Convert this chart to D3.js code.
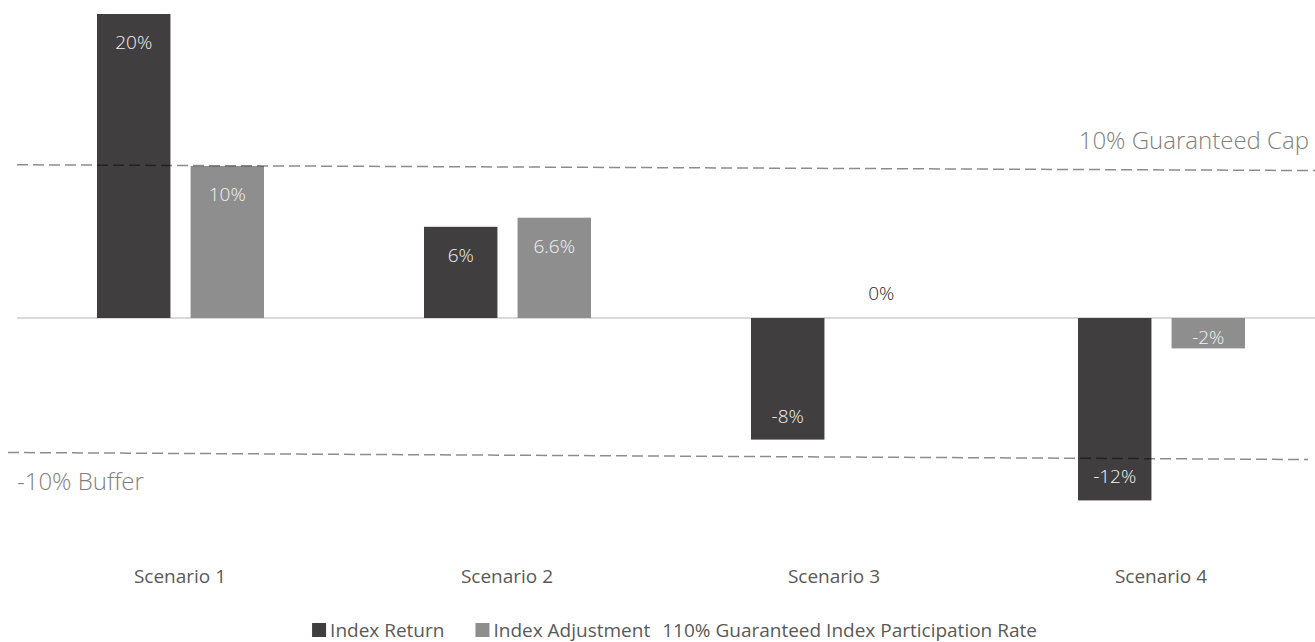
<!DOCTYPE html>
<html>
<head>
<meta charset="utf-8">
<script src="https://cdn.jsdelivr.net/npm/d3@7"></script>
<style>
  html, body { margin: 0; padding: 0; background: #fff; }
  svg { display: block; font-family: "Open Sans", "Segoe UI", sans-serif; }
</style>
</head>
<body>
<svg id="chart" width="1315" height="642"></svg>
<script>
// ---- data ----
const categories = ["Scenario 1", "Scenario 2", "Scenario 3", "Scenario 4"];
const seriesNames = ["Index Return", "Index Adjustment"];
const indexReturn = [20, 6, -8, -12];
const indexAdjustment = [10, 6.6, 0, -2];
const capLine = [10.08, 9.70];      // value at left end, value at right end
const bufferLine = [-8.85, -9.31];
const capLabel = "10% Guaranteed Cap";
const bufferLabel = "-10% Buffer";
const extraLegend = "110% Guaranteed Index Participation Rate";

const colors = ["#403e3f", "#8e8e8e"];

const svg = d3.select("#chart");

const x0 = d3.scaleBand().domain(categories).range([17, 1325]).paddingInner(0).paddingOuter(0);
const x1 = d3.scaleBand().domain(seriesNames).range([80, 247]).paddingInner(0.215).paddingOuter(0);
const y = d3.scaleLinear().domain([-12, 20]).range([500.4, 14]);

const rows = categories.map((c, i) => ({ cat: c, vals: [indexReturn[i], indexAdjustment[i]] }));

// zero line
svg.append("line")
  .attr("x1", 17).attr("x2", 1315)
  .attr("y1", y(0)).attr("y2", y(0))
  .attr("stroke", "#d9d9d9").attr("stroke-width", 2);

// bars
const groups = svg.selectAll("g.cat").data(rows).join("g")
  .attr("class", "cat")
  .attr("transform", d => `translate(${x0(d.cat)},0)`);

groups.selectAll("rect").data(d => d.vals.map((v, j) => ({ v, s: seriesNames[j], j })))
  .join("rect")
  .attr("x", d => x1(d.s))
  .attr("width", x1.bandwidth())
  .attr("y", d => Math.min(y(d.v), y(0)))
  .attr("height", d => Math.abs(y(d.v) - y(0)))
  .attr("fill", d => colors[d.j]);

// dashed reference lines
svg.append("line")
  .attr("x1", 17).attr("x2", 1315)
  .attr("y1", y(capLine[0])).attr("y2", y(capLine[1]))
  .attr("stroke", "#000").attr("stroke-opacity", 0.45)
  .attr("stroke-width", 1.5).attr("stroke-dasharray", "11,5");
svg.append("line")
  .attr("x1", 8).attr("x2", 1308)
  .attr("y1", y(bufferLine[0])).attr("y2", y(bufferLine[1]))
  .attr("stroke", "#000").attr("stroke-opacity", 0.45)
  .attr("stroke-width", 1.5).attr("stroke-dasharray", "11,5");

// bar value labels
groups.selectAll("text.val").data(d => d.vals.map((v, j) => ({ v, s: seriesNames[j], j })))
  .join("text")
  .attr("class", "val")
  .attr("x", d => x1(d.s) + x1.bandwidth() / 2)
  .attr("y", d => {
    if (d.v > 0) return y(d.v) + 35;
    if (d.v < 0) return Math.max(y(d.v) - 17, y(0) + 26);
    return y(0) - 18;
  })
  .attr("text-anchor", "middle")
  .attr("font-size", 19).attr("font-weight", 300)
  .attr("fill", d => d.v === 0 ? "#262626" : "#f2f2f2")
  .text(d => d.v + "%");

// reference labels
svg.append("text")
  .attr("x", 1309).attr("y", 149)
  .attr("text-anchor", "end")
  .attr("font-size", 24).attr("font-weight", 300)
  .attr("fill", "#7f7f7f")
  .text(capLabel);
svg.append("text")
  .attr("x", 17).attr("y", 490)
  .attr("font-size", 24).attr("font-weight", 300)
  .attr("fill", "#7f7f7f")
  .text(bufferLabel);

// category axis labels
svg.append("g").selectAll("text").data(categories).join("text")
  .attr("x", d => x0(d) + x0.bandwidth() / 2 - 0.5)
  .attr("y", 583)
  .attr("text-anchor", "middle")
  .attr("font-size", 19)
  .attr("fill", "#595959")
  .text(d => d);

// legend
const legend = svg.append("g");
const items = [
  { name: seriesNames[0], color: colors[0] },
  { name: seriesNames[1], color: colors[1] },
  { name: extraLegend, color: null }
];
let cx = 0;
const gaps = [31, 12];
items.forEach((it, i) => {
  const g = legend.append("g").attr("transform", `translate(${cx},0)`);
  let tx = 0;
  if (it.color) {
    g.append("rect").attr("x", 0).attr("y", -14).attr("width", 14).attr("height", 14).attr("fill", it.color);
    tx = 18;
  }
  const t = g.append("text").attr("x", tx).attr("y", 0)
    .attr("font-size", 19).attr("fill", "#595959").text(it.name);
  const w = tx + t.node().getComputedTextLength();
  cx += w + (gaps[i] || 0);
});
const totalW = cx;
legend.attr("transform", `translate(${674.5 - totalW / 2},637)`);
</script>
</body>
</html>
